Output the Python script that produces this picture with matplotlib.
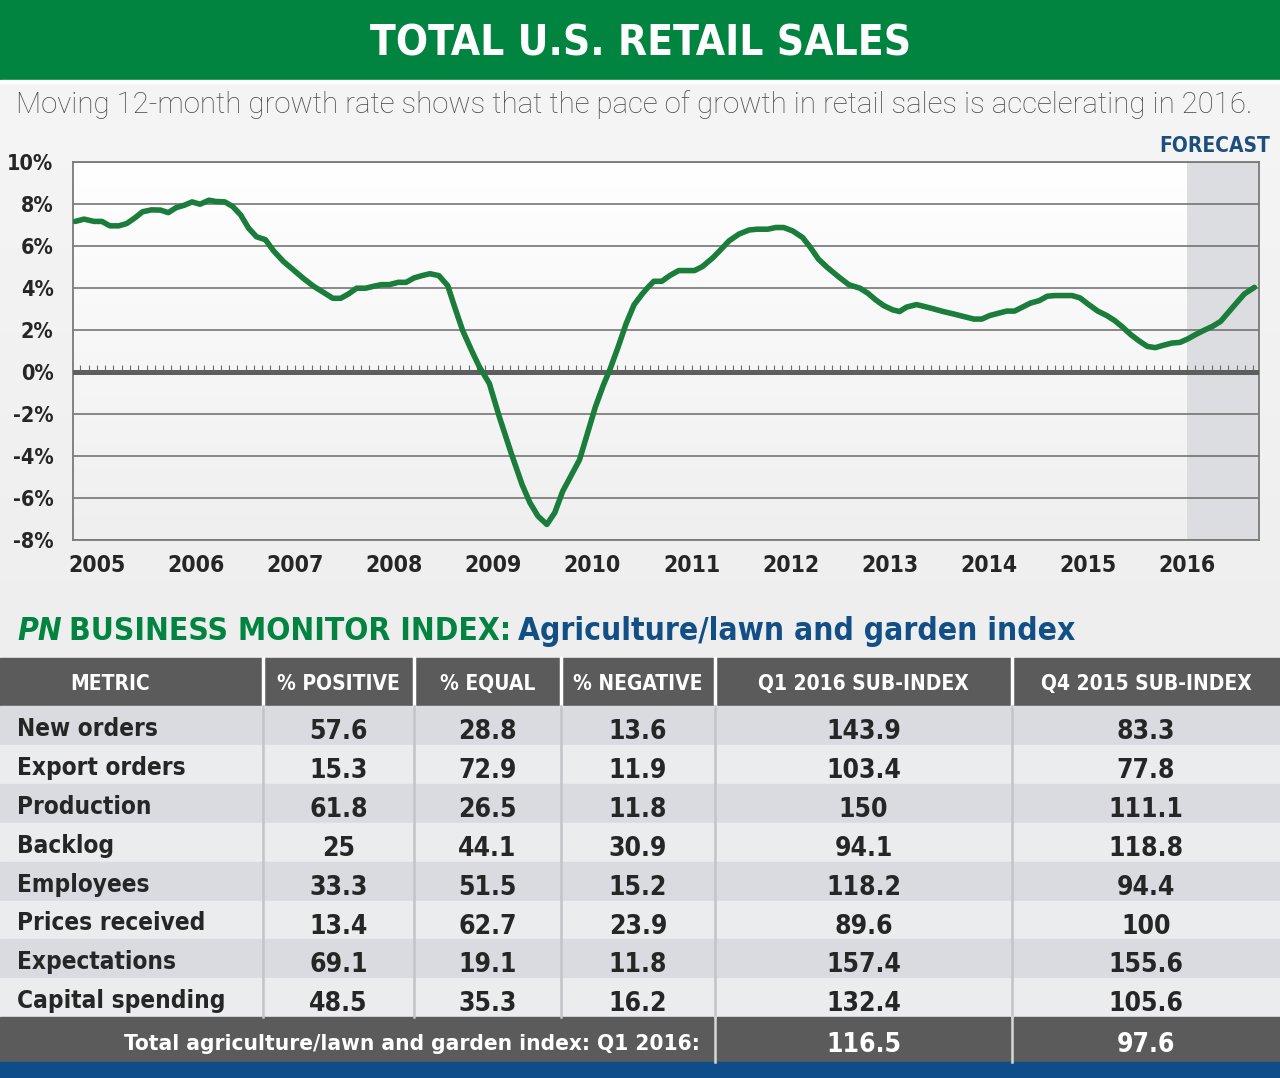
import numpy as np
import matplotlib
matplotlib.use('Agg')
import matplotlib.pyplot as plt
from matplotlib import font_manager as fm
from matplotlib.patches import Rectangle
from matplotlib.colors import LinearSegmentedColormap

# ---- chart data ----
years = [2004.78, 2004.87, 2004.97, 2005.05, 2005.13, 2005.22, 2005.30, 2005.38, 2005.46, 2005.55,
         2005.64, 2005.72, 2005.80, 2005.88, 2005.96, 2006.04, 2006.13, 2006.20, 2006.29, 2006.37,
         2006.45, 2006.53, 2006.61, 2006.70, 2006.78, 2006.88, 2006.99, 2007.09, 2007.19, 2007.30,
         2007.38, 2007.46, 2007.54, 2007.62, 2007.71, 2007.79, 2007.87, 2007.95, 2008.04, 2008.12,
         2008.20, 2008.28, 2008.36, 2008.45, 2008.54, 2008.61, 2008.69, 2008.78, 2008.86, 2008.96,
         2009.06, 2009.18, 2009.29, 2009.37, 2009.45, 2009.54, 2009.62, 2009.70, 2009.78, 2009.87,
         2009.95, 2010.03, 2010.11, 2010.18, 2010.26, 2010.34, 2010.42, 2010.50, 2010.56, 2010.62,
         2010.70, 2010.78, 2010.87, 2010.95, 2011.03, 2011.11, 2011.22, 2011.30, 2011.38, 2011.48,
         2011.58, 2011.66, 2011.77, 2011.85, 2011.93, 2012.02, 2012.12, 2012.20, 2012.28, 2012.37,
         2012.49, 2012.59, 2012.70, 2012.78, 2012.86, 2012.94, 2013.03, 2013.10, 2013.17, 2013.27,
         2013.35, 2013.44, 2013.54, 2013.64, 2013.75, 2013.85, 2013.93, 2014.01, 2014.10, 2014.18,
         2014.26, 2014.34, 2014.42, 2014.51, 2014.59, 2014.67, 2014.75, 2014.84, 2014.92, 2015.00,
         2015.10, 2015.19, 2015.27, 2015.35, 2015.43, 2015.52, 2015.60, 2015.68, 2015.76, 2015.85,
         2015.93, 2016.01, 2016.09, 2016.17, 2016.26, 2016.34, 2016.42, 2016.50, 2016.58, 2016.68]
growth = [7.17, 7.28, 7.17, 7.17, 6.96, 6.96, 7.07, 7.33, 7.63, 7.72,
          7.71, 7.59, 7.83, 7.94, 8.10, 7.99, 8.18, 8.12, 8.10, 7.88,
          7.48, 6.85, 6.44, 6.30, 5.78, 5.27, 4.83, 4.43, 4.07, 3.75,
          3.51, 3.51, 3.72, 3.99, 3.99, 4.08, 4.16, 4.16, 4.27, 4.27,
          4.48, 4.59, 4.68, 4.59, 4.11, 3.09, 1.98, 1.03, 0.24, -0.55,
          -2.13, -3.86, -5.36, -6.23, -6.86, -7.26, -6.70, -5.68, -4.97, -4.18,
          -2.92, -1.66, -0.63, 0.16, 1.20, 2.30, 3.20, 3.70, 4.03, 4.32,
          4.32, 4.59, 4.83, 4.83, 4.83, 5.02, 5.46, 5.85, 6.25, 6.57,
          6.76, 6.80, 6.80, 6.88, 6.88, 6.72, 6.41, 5.93, 5.38, 4.98,
          4.51, 4.15, 3.99, 3.75, 3.43, 3.16, 2.96, 2.88, 3.09, 3.21,
          3.12, 3.01, 2.88, 2.77, 2.64, 2.52, 2.52, 2.69, 2.80, 2.90,
          2.90, 3.09, 3.28, 3.40, 3.61, 3.64, 3.64, 3.64, 3.53, 3.24,
          2.90, 2.69, 2.45, 2.14, 1.79, 1.47, 1.22, 1.16, 1.27, 1.38,
          1.41, 1.58, 1.79, 1.98, 2.18, 2.41, 2.85, 3.29, 3.72, 4.03]
year_ticks = list(range(2005, 2017))
year_labels = [str(y) for y in year_ticks]
pct_ticks = list(range(-8, 11, 2))
forecast_start = 2016.0

# ---- table data ----
col_headers = ['METRIC', '% POSITIVE', '% EQUAL', '% NEGATIVE', 'Q1 2016 SUB-INDEX', 'Q4 2015 SUB-INDEX']
metrics = ['New orders', 'Export orders', 'Production', 'Backlog', 'Employees',
           'Prices received', 'Expectations', 'Capital spending']
pct_positive = [57.6, 15.3, 61.8, 25, 33.3, 13.4, 69.1, 48.5]
pct_equal = [28.8, 72.9, 26.5, 44.1, 51.5, 62.7, 19.1, 35.3]
pct_negative = [13.6, 11.9, 11.8, 30.9, 15.2, 23.9, 11.8, 16.2]
sub_q1_2016 = [143.9, 103.4, 150, 94.1, 118.2, 89.6, 157.4, 132.4]
sub_q4_2015 = [83.3, 77.8, 111.1, 118.8, 94.4, 100, 155.6, 105.6]
total_label = 'Total agriculture/lawn and garden index: Q1 2016:'
total_q1 = 116.5
total_q4 = 97.6

# ---- colours / fonts ----
GREEN = '#00843f'
LINE_GREEN = '#1a7d3b'
BLUE = '#114f86'
DARK = '#262626'
HEAD_GRAY = '#5b5b5b'

names = {f.name for f in fm.fontManager.ttflist}
if 'Liberation Sans Narrow' in names:
    COND = {'family': 'Liberation Sans Narrow'}
else:
    COND = {'family': 'DejaVu Sans', 'stretch': 'condensed'}

fig = plt.figure(figsize=(12.8, 10.78), dpi=100)
renderer = fig.canvas.get_renderer()

# background axes in pixel units (y down)
bg = fig.add_axes([0, 0, 1, 1])
bg.axis('off')
bg_cmap = LinearSegmentedColormap.from_list('bgc', ['#f6f6f6', '#e9e9e9'])
bg.imshow(np.linspace(0, 1, 256).reshape(-1, 1), cmap=bg_cmap, extent=[0, 1280, 1078, 0],
          aspect='auto', zorder=0)
bg.set_xlim(0, 1280)
bg.set_ylim(1078, 0)


def fit_width(t, target):
    w = t.get_window_extent(renderer).width
    t.set_fontsize(t.get_fontsize() * target / w)


# banner
bg.add_patch(Rectangle((0, 0), 1280, 80, color=GREEN, zorder=1))
bg.add_patch(Rectangle((0, 80), 1280, 3, color='white', zorder=1))
t = bg.text(641, 55, 'TOTAL U.S. RETAIL SALES', color='white', fontsize=34, fontweight='bold',
            ha='center', va='baseline', zorder=2, **COND)
fit_width(t, 542)

t = bg.text(16, 113, 'Moving 12-month growth rate shows that the pace of growth in retail sales '
            'is accelerating in 2016.', color='#4a4a4a', fontsize=16, family='Roboto',
            fontweight='light', ha='left', va='baseline', zorder=2)
fit_width(t, 1246)

bg.text(1270, 152, 'FORECAST', color='#1d4f7c', fontsize=15, fontweight='bold',
        ha='right', va='baseline', zorder=2, **COND)

# ---- line chart ----
ax = fig.add_axes([73 / 1280, 1 - 540 / 1078, 1186 / 1280, 378 / 1078])
ax_cmap = LinearSegmentedColormap.from_list('axc', ['#ffffff', '#efefef'])
ax.imshow(np.linspace(0, 1, 256).reshape(-1, 1), cmap=ax_cmap, extent=[0, 1, 0, 1],
          transform=ax.transAxes, aspect='auto', zorder=0)
ax.axvspan(forecast_start, 2016.727, color='#dcdde0', zorder=1, lw=0)
for v in pct_ticks:
    if v != 0:
        ax.axhline(v, color='#6a6a6a', lw=1.1, zorder=2)
months = np.arange(2004 + 10 / 12, 2016.72, 1 / 12)
ax.vlines(months, 0, 0.35, color='#6a6a6a', lw=0.8, zorder=2)
ax.axhline(0, color='#5e5e5e', lw=3.6, zorder=3)
ax.plot(years, growth, color=LINE_GREEN, lw=4.0, solid_capstyle='round',
        solid_joinstyle='round', zorder=4)

ax.set_xlim(2004.758, 2016.727)
ax.set_ylim(-8, 10)
ax.set_yticks(pct_ticks)
ax.set_yticklabels(['%d%%' % v for v in pct_ticks])
ax.set_xticks(year_ticks)
ax.set_xticklabels(year_labels)
ax.tick_params(axis='y', length=0, pad=14, labelsize=15.5, labelcolor=DARK)
ax.tick_params(axis='x', length=0, pad=10, labelsize=16.5, labelcolor=DARK)
for lab in ax.get_xticklabels() + ax.get_yticklabels():
    lab.set_fontweight('bold')
    lab.set_fontfamily(COND['family'])
    if 'stretch' in COND:
        lab.set_fontstretch(COND['stretch'])
for side in ['left', 'right', 'bottom', 'top']:
    ax.spines[side].set_color('#7a7a7a')
    ax.spines[side].set_linewidth(1.3)

# ---- section title ----
runs = [('PN', GREEN, 'italic'), ('BUSINESS MONITOR INDEX:', GREEN, 'normal'),
        ('Agriculture/lawn and garden index', BLUE, 'normal')]
run_texts = [bg.text(0, 640, s, color=c, fontstyle=st, fontweight='bold', fontsize=26,
                     ha='left', va='baseline', zorder=2, **COND) for s, c, st in runs]


def layout_runs(size):
    x = 17
    gap = size * 0.23 * 100 / 72
    for tt in run_texts:
        tt.set_fontsize(size)
        tt.set_x(x)
        x += tt.get_window_extent(renderer).width + gap
    return x - gap - 17


total_w = layout_runs(26)
layout_runs(26 * 1059 / total_w)

# ---- table ----
col_edges = [0, 263, 414, 561, 715, 1012, 1280]
head_top, head_bot = 658, 706
row_h = 38.9
row_cols = ['#d9dbe1', '#ebeced']

bg.add_patch(Rectangle((0, head_top), 1280, head_bot - head_top, color=HEAD_GRAY, zorder=1))
for i, h in enumerate(col_headers):
    cx = (col_edges[i] + col_edges[i + 1]) / 2
    if i == 0:
        cx = 110
    t = bg.text(cx, 690, h, color='white', fontsize=15, fontweight='bold', ha='center',
                va='baseline', zorder=2, **COND)
    w = t.get_window_extent(renderer).width
    room = col_edges[i + 1] - col_edges[i] - 18
    if w > room:
        t.set_fontsize(15 * room / w)

columns = [pct_positive, pct_equal, pct_negative, sub_q1_2016, sub_q4_2015]
for r, name in enumerate(metrics):
    top = head_bot + r * row_h
    bg.add_patch(Rectangle((0, top), 1280, row_h + 0.5, color=row_cols[r % 2], zorder=1))
    bg.text(17, top + 30, name, color=DARK, fontsize=17.5, fontweight='bold', ha='left',
            va='baseline', zorder=2, **COND)
    for c, vals in enumerate(columns):
        cx = (col_edges[c + 1] + col_edges[c + 2]) / 2
        bg.text(cx, top + 33, '{:g}'.format(vals[r]), color=DARK, fontsize=19,
                fontweight='bold', ha='center', va='baseline', zorder=2, **COND)

body_bot = head_bot + len(metrics) * row_h
for e in col_edges[1:-1]:
    bg.plot([e, e], [head_top, head_bot], color='white', lw=2.5, zorder=3)
    bg.plot([e, e], [head_bot, body_bot], color='#c3c4c8', lw=1.8, zorder=3)

# total row + bottom bar
bg.add_patch(Rectangle((0, body_bot), 1280, 1062 - body_bot, color=HEAD_GRAY, zorder=1))
bg.add_patch(Rectangle((0, 1062), 1280, 16, color='#0e4d87', zorder=1))
for e in col_edges[4:6]:
    bg.plot([e, e], [body_bot, 1062], color='#d8d8d8', lw=1.8, zorder=3)
t = bg.text(700, 1050, total_label, color='white', fontsize=20, fontweight='bold',
            ha='right', va='baseline', zorder=2, **COND)
fit_width(t, 574)
for c, v in zip([4, 5], [total_q1, total_q4]):
    cx = (col_edges[c] + col_edges[c + 1]) / 2
    bg.text(cx, 1052, '{:g}'.format(v), color='white', fontsize=19, fontweight='bold',
            ha='center', va='baseline', zorder=2, **COND)

fig.savefig('out.png', dpi=100, facecolor=fig.get_facecolor())
